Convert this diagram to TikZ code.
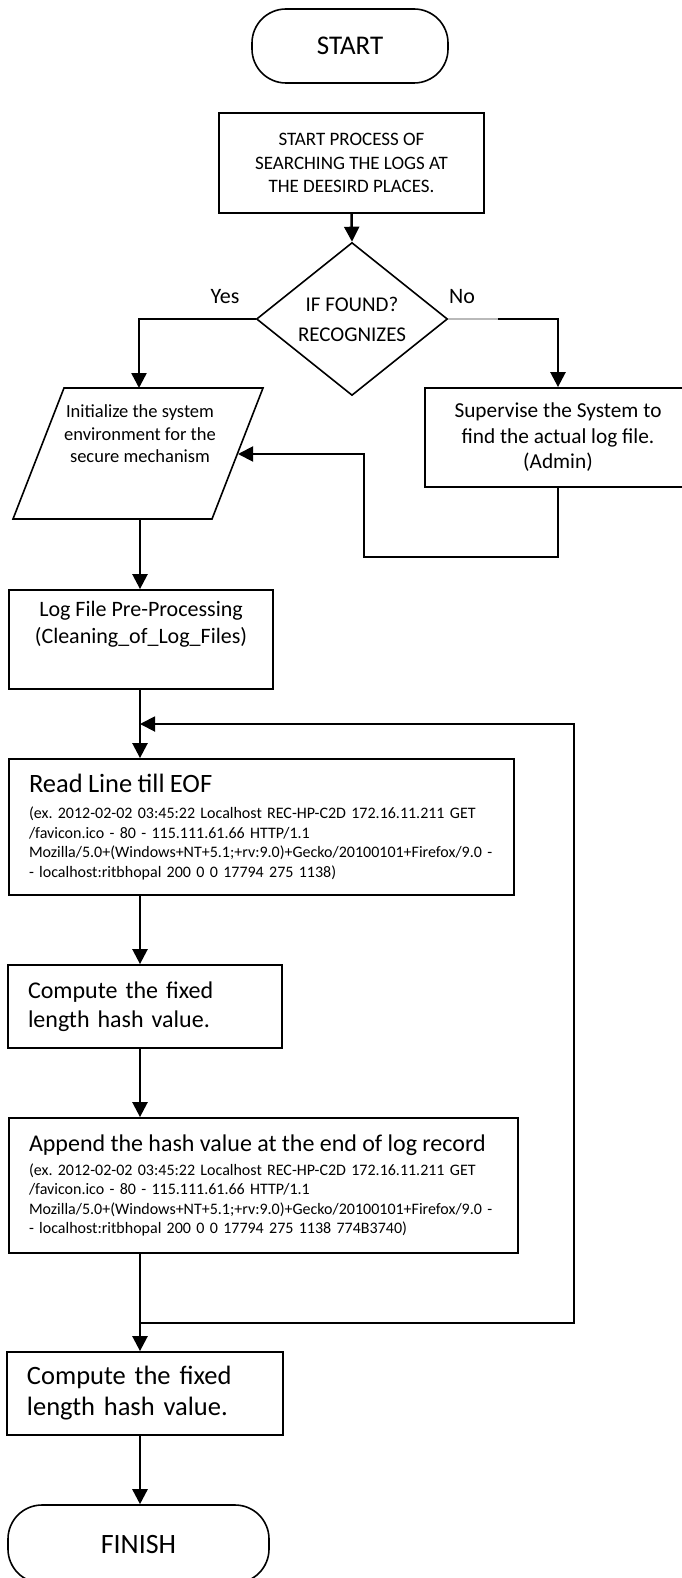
\documentclass[tikz,border=0pt]{standalone}
\usepackage{fontspec}
\setmainfont{Carlito}
\usetikzlibrary{arrows.meta,shapes.geometric}
\frenchspacing
\tikzset{
  every node/.style={inner sep=0pt},
  procbox/.style={draw, line width=1.8pt, rectangle, align=center},
  leftbox/.style={draw, line width=1.8pt, rectangle, inner xsep=20pt, align=left},
  termbox/.style={draw, line width=1.6pt, rectangle, rounded corners=34pt},
  decision/.style={draw, diamond, line width=1.6pt, align=center},
  flow/.style={line width=2.5pt, -{Triangle[width=15pt,length=15pt]}},
  backflow/.style={line width=1.9pt, -{Triangle[width=15pt,length=15pt]}},
  thinflow/.style={line width=1.3pt},
  greyseg/.style={gray!55, line width=1.2pt},
}
\newcommand\fsz[2]{\fontsize{#1}{#2}\selectfont\frenchspacing}
\begin{document}
\begin{tikzpicture}[x=1pt,y=-1pt]
\useasboundingbox (0,0) rectangle (682,1578);
\clip (0,0) rectangle (682,1578);
\coordinate (spine) at (140,0);

\node[termbox, minimum width=196pt, minimum height=74pt, font=\fsz{27}{32}] (start) at (350,46) {START};
\node[procbox, minimum width=265pt, minimum height=100pt, font=\fsz{19}{23.5}] (search) at (351.5,163) {START PROCESS OF\\SEARCHING THE LOGS AT\\THE DEESIRD PLACES.};
\node[decision, minimum width=191pt, minimum height=153pt, font=\fsz{21}{30}] (dia) at (352,319) {IF FOUND?\\RECOGNIZES};
\node[font=\fsz{22}{26}] (yes) at (225,297) {Yes};
\node[font=\fsz{22}{26}] (no) at (462,297) {No};

\coordinate (p1) at (64,388);
\coordinate (p2) at (263,388);
\coordinate (p3) at (212,519);
\coordinate (p4) at (13,519);
\draw[line width=1.6pt] (p1) -- (p2) -- (p3) -- (p4) -- cycle;
\node[align=center, font=\fsz{18.5}{22.5}] (init) at (140,434) {Initialize the system\\environment for the\\secure mechanism};
\coordinate (initTop) at (139,388);
\coordinate (initRight) at (238,454);
\coordinate (initBottom) at (140,519);

\node[procbox, minimum width=266pt, minimum height=99pt, font=\fsz{21.3}{25.5}] (admin) at (558,437.5) {Supervise the System to\\find the actual log file.\\(Admin)};

\node[procbox, minimum width=264pt, minimum height=99pt, font=\fsz{22}{27}] (log) at (141,639.5) {Log File Pre-Processing\\(Cleaning\_of\_Log\_Files)\\\strut};

\node[leftbox, text width=465pt, minimum height=136pt, font=\fsz{16}{19.5}] (read) at (261.5,827) {{\fsz{26.5}{32}Read Line till EOF\par}\vspace{6.5pt}(ex. 2012-02-02 03:45:22 Localhost REC-HP-C2D 172.16.11.211 GET\\/favicon.ico - 80 - 115.111.61.66 HTTP/1.1\\Mozilla/5.0+(Windows+NT+5.1;+rv:9.0)+Gecko/20100101+Firefox/9.0 -\\- localhost:ritbhopal 200 0 0 17794 275 1138)};

\node[leftbox, text width=234pt, minimum height=83pt, font=\fsz{24}{29}] (comp1) at (145,1006.5) {Compute the fixed\\length hash value.};

\node[leftbox, text width=469pt, minimum height=135pt, font=\fsz{16}{19.5}] (append) at (263.5,1185.5) {{\fsz{24}{29}Append the hash value at the end of log record\par}\vspace{4.5pt}(ex. 2012-02-02 03:45:22 Localhost REC-HP-C2D 172.16.11.211 GET\\/favicon.ico - 80 - 115.111.61.66 HTTP/1.1\\Mozilla/5.0+(Windows+NT+5.1;+rv:9.0)+Gecko/20100101+Firefox/9.0 -\\- localhost:ritbhopal 200 0 0 17794 275 1138 774B3740)};

\node[leftbox, text width=236pt, minimum height=83pt, font=\fsz{26.5}{31}] (comp2) at (145,1393.5) {Compute the fixed\\length hash value.};

\node[termbox, minimum width=261pt, minimum height=78pt, font=\fsz{28}{32}] (finish) at (138.5,1544) {FINISH};

% connectors
\draw[flow] (search.south) -- (dia.north);
\draw[flow] (dia.west) -| (initTop);
\coordinate (nomid) at (498,319);
\draw[greyseg] (dia.east) -- (nomid);
\draw[flow] (nomid) -| (admin.north);
\coordinate (lp) at (364,557);
\draw[backflow] (admin.south) |- (lp) |- (initRight);
\draw[flow] (initBottom) -- (initBottom |- log.north);
\draw[flow] (log.south -| spine) -- (read.north -| spine);
\draw[flow] (read.south -| spine) -- (comp1.north -| spine);
\draw[flow] (comp1.south -| spine) -- (append.north -| spine);
\coordinate (j1) at (140,1282);
\draw[thinflow] (append.south -| spine) -- (j1);
\draw[flow] (j1) -- (comp2.north -| spine);
\coordinate (jl) at (140,1323);
\coordinate (lt) at (574,724);
\coordinate (fb) at (140,724);
\draw[backflow] (jl) -| (lt) -- (fb);
\draw[flow] (comp2.south -| spine) -- (finish.north -| spine);
\end{tikzpicture}
\end{document}
